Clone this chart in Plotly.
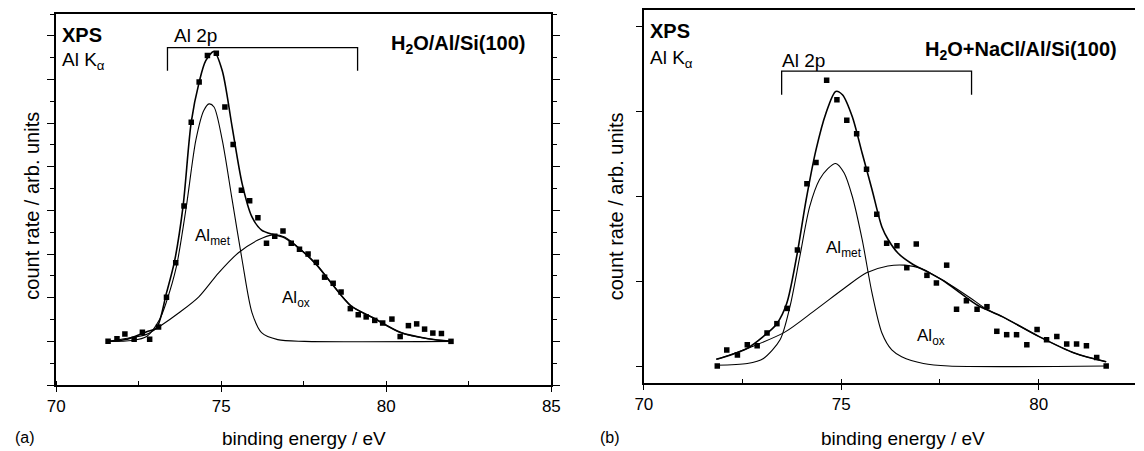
import plotly.graph_objects as go

# panel (a): H2O/Al/Si(100)
a_pts_e = [71.57, 71.84, 72.08, 72.36, 72.61, 72.83, 73.10, 73.34, 73.62, 73.87, 74.09, 74.33,
           74.58, 74.85, 75.11, 75.36, 75.61, 75.86, 76.11, 76.37, 76.62, 76.87, 77.12, 77.37,
           77.63, 77.88, 78.13, 78.39, 78.63, 78.91, 79.15, 79.39, 79.65, 79.89, 80.17, 80.42,
           80.67, 80.92, 81.16, 81.41, 81.67, 81.96]
a_pts_y = [0.00, 0.06, 0.17, 0.05, 0.21, 0.05, 0.33, 1.01, 1.80, 3.10, 5.02, 5.94,
           6.55, 6.60, 5.37, 4.51, 3.46, 3.22, 2.83, 2.25, 2.41, 2.53, 2.25, 2.11,
           2.00, 1.81, 1.47, 1.33, 1.13, 0.75, 0.61, 0.56, 0.48, 0.42, 0.51, 0.11,
           0.36, 0.40, 0.28, 0.19, 0.18, 0.00]

a_sum_e = [71.58, 72.15, 72.74, 73.04, 73.34, 73.58, 73.84, 74.09, 74.33, 74.53, 74.78, 75.03,
           75.33, 75.63, 75.93, 76.22, 76.62, 76.92, 77.42, 77.87, 78.35, 78.92, 79.60, 80.44,
           81.27, 81.96]
a_sum_y = [0.00, 0.05, 0.22, 0.31, 1.11, 1.82, 3.08, 5.02, 5.94, 6.43, 6.64, 6.20,
           4.91, 3.62, 2.85, 2.55, 2.44, 2.37, 2.09, 1.77, 1.32, 0.82, 0.54, 0.20,
           0.06, 0.00]

a_met_e = [71.58, 72.30, 72.74, 73.13, 73.34, 73.64, 73.94, 74.23, 74.47, 74.63, 74.78, 75.03,
           75.33, 75.63, 75.93, 76.22, 76.71, 77.52, 81.96]
a_met_y = [0.00, 0.02, 0.11, 0.50, 0.91, 1.71, 3.08, 4.61, 5.29, 5.44, 5.37, 4.61,
           3.24, 1.87, 0.66, 0.20, 0.04, 0.00, 0.00]

a_ox_e = [71.58, 72.15, 72.74, 73.13, 73.73, 74.32, 74.92, 75.52, 76.11, 76.56, 76.92, 77.43,
          77.87, 78.35, 78.92, 79.60, 80.44, 81.27, 81.96]
a_ox_y = [0.00, 0.07, 0.16, 0.34, 0.66, 1.02, 1.57, 2.03, 2.32, 2.44, 2.39, 2.09,
          1.77, 1.32, 0.82, 0.54, 0.20, 0.06, 0.00]

# panel (b): H2O+NaCl/Al/Si(100)
b_pts_e = [71.86, 72.10, 72.37, 72.62, 72.87, 73.12, 73.37, 73.63, 73.89, 74.13, 74.36, 74.63,
           74.89, 75.14, 75.39, 75.64, 75.90, 76.15, 76.41, 76.66, 76.90, 77.17, 77.41, 77.67,
           77.92, 78.17, 78.44, 78.69, 78.94, 79.19, 79.44, 79.70, 79.96, 80.20, 80.46, 80.71,
           80.96, 81.21, 81.47, 81.71]
b_pts_y = [0.00, 0.19, 0.13, 0.25, 0.24, 0.39, 0.50, 0.68, 1.37, 2.15, 2.40, 3.37,
           3.14, 2.90, 2.74, 2.32, 1.79, 1.45, 1.42, 1.16, 1.44, 1.07, 0.98, 1.19,
           0.67, 0.77, 0.67, 0.70, 0.41, 0.37, 0.37, 0.25, 0.43, 0.31, 0.35, 0.26,
           0.26, 0.24, 0.10, 0.00]

b_sum_e = [71.83, 72.20, 72.62, 73.03, 73.37, 73.62, 73.87, 74.11, 74.36, 74.61, 74.86, 75.03,
           75.28, 75.53, 75.78, 76.03, 76.19, 76.44, 76.78, 77.19, 77.61, 78.02, 78.44, 79.09,
           80.00, 80.92, 81.71]
b_sum_y = [0.08, 0.13, 0.21, 0.35, 0.50, 0.74, 1.29, 1.96, 2.55, 2.98, 3.24, 3.20,
           2.94, 2.51, 2.08, 1.64, 1.49, 1.33, 1.21, 1.11, 1.00, 0.86, 0.72, 0.58,
           0.35, 0.15, 0.05]

b_met_e = [71.83, 72.62, 73.03, 73.45, 73.70, 73.95, 74.20, 74.45, 74.66, 74.86, 75.07, 75.28,
           75.53, 75.78, 76.03, 76.28, 76.53, 77.08, 77.72, 81.71]
b_met_y = [0.01, 0.03, 0.09, 0.31, 0.70, 1.29, 1.88, 2.20, 2.33, 2.39, 2.28, 2.00,
           1.49, 0.86, 0.39, 0.19, 0.11, 0.03, 0.00, 0.00]

b_ox_e = [71.86, 72.69, 73.57, 74.34, 75.11, 75.64, 76.18, 76.61, 77.03, 77.43, 77.86, 78.28,
          78.68, 79.09, 80.00, 80.92, 81.71]
b_ox_y = [0.08, 0.22, 0.40, 0.66, 0.93, 1.10, 1.18, 1.19, 1.15, 1.05, 0.93, 0.80,
          0.67, 0.58, 0.35, 0.15, 0.05]

# Al 2p brackets
a_brk_e = [73.37, 73.37, 79.13, 79.13]
a_brk_y = [6.20, 6.73, 6.73, 6.20]
b_brk_e = [73.49, 73.49, 78.30, 78.30]
b_brk_y = [3.20, 3.48, 3.48, 3.20]

FONT = "Liberation Sans, Arial, sans-serif"
W, H = 1144, 451

fig = go.Figure()

def panel(xa, ya, pts_e, pts_y, curves, brk_e, brk_y):
    for i, (ce, cy) in enumerate(curves):
        # envelope a bit heavier than the two components
        fig.add_trace(go.Scatter(x=ce, y=cy, mode='lines',
                                 line=dict(color='black', width=1.6 if i == 0 else 1.1, shape='spline', smoothing=0.8),
                                 xaxis=xa, yaxis=ya, hoverinfo='skip'))
    fig.add_trace(go.Scatter(x=pts_e, y=pts_y, mode='markers',
                             marker=dict(symbol='square', size=5.5, color='black'),
                             xaxis=xa, yaxis=ya))
    fig.add_trace(go.Scatter(x=brk_e, y=brk_y, mode='lines', line=dict(color='black', width=1.3),
                             xaxis=xa, yaxis=ya, hoverinfo='skip'))

panel('x', 'y', a_pts_e, a_pts_y, [(a_sum_e, a_sum_y), (a_met_e, a_met_y), (a_ox_e, a_ox_y)], a_brk_e, a_brk_y)
panel('x2', 'y2', b_pts_e, b_pts_y, [(b_sum_e, b_sum_y), (b_met_e, b_met_y), (b_ox_e, b_ox_y)], b_brk_e, b_brk_y)

xcommon = dict(showgrid=False, zeroline=False, showline=True, linecolor='black', linewidth=1.6,
               ticks='outside', ticklen=5, tickwidth=1.3, tickcolor='black', dtick=5, tick0=70,
               tickfont=dict(size=17, color='black', family=FONT),
               minor=dict(ticks='inside', dtick=2.5, ticklen=4, tickwidth=1, tickcolor='black'))

fig.update_layout(
    width=W, height=H, showlegend=False, plot_bgcolor='white', paper_bgcolor='white',
    margin=dict(l=0, r=0, t=0, b=0),
    font=dict(family=FONT, color='black'),
    xaxis=dict(domain=[48 / W, 551 / W], range=[70, 85], anchor='y', mirror=True, **xcommon),
    yaxis=dict(domain=[(H - 385) / H, (H - 14) / H], range=[-1, 7.5], anchor='x',
               showgrid=False, zeroline=False, showline=True, linecolor='black', linewidth=1.6,
               mirror='ticks', showticklabels=False, ticks='outside', ticklen=7, tickwidth=1.2,
               tickcolor='black', dtick=1, tick0=0,
               minor=dict(ticks='outside', dtick=0.5, ticklen=4, tickwidth=1, tickcolor='black')),
    xaxis2=dict(domain=[645 / W, 1.0], range=[70, 82.44], anchor='y2', mirror=True, **xcommon),
    yaxis2=dict(domain=[(H - 383) / H, (H - 10) / H], range=[-0.2, 4.2], anchor='x2',
                showgrid=False, zeroline=False, showline=True, linecolor='black', linewidth=1.6,
                showticklabels=False, ticks='outside', ticklen=6, tickwidth=1.2, tickcolor='black',
                dtick=1, tick0=0),
)

def note(text, x, y, xref, yref, size=16, xanchor='left', yanchor='middle', angle=0):
    fig.add_annotation(text=text, x=x, y=y, xref=xref, yref=yref, showarrow=False,
                       xanchor=xanchor, yanchor=yanchor, textangle=angle,
                       font=dict(size=size, color='black', family=FONT))

# panel (a) labels
note('<b>XPS</b>', 70.10, 7.01, 'x', 'y', size=20)
note('Al K<sub>α</sub>', 70.10, 6.42, 'x', 'y', size=19)
note('Al 2p', 74.21, 7.0, 'x', 'y', size=19, xanchor='center')
note('<b>H<sub>2</sub>O/Al/Si(100)</b>', 84.29, 6.80, 'x', 'y', size=20, xanchor='right')
note('Al<sub>met</sub>', 74.15, 2.38, 'x', 'y', size=17)
note('Al<sub>ox</sub>', 76.77, 0.96, 'x', 'y', size=17)
note('count rate / arb. units', 23 / W, (H - 206) / H, 'paper', 'paper', size=20, xanchor='center', angle=-90)
note('binding energy / eV', 300 / W, (H - 438) / H, 'paper', 'paper', size=19, xanchor='center')
note('(a)', 4 / W, (H - 437) / H, 'paper', 'paper', size=16)

# panel (b) labels
note('<b>XPS</b>', 70.10, 3.95, 'x2', 'y2', size=20)
note('Al K<sub>α</sub>', 70.10, 3.62, 'x2', 'y2', size=19)
note('Al 2p', 74.05, 3.60, 'x2', 'y2', size=19, xanchor='center')
note('<b>H<sub>2</sub>O+NaCl/Al/Si(100)</b>', 82.04, 3.72, 'x2', 'y2', size=20, xanchor='right')
note('Al<sub>met</sub>', 74.56, 1.38, 'x2', 'y2', size=17)
note('Al<sub>ox</sub>', 76.88, 0.34, 'x2', 'y2', size=17)
note('count rate / arb. units', 617 / W, (H - 206) / H, 'paper', 'paper', size=20, xanchor='center', angle=-90)
note('binding energy / eV', 908 / W, (H - 438) / H, 'paper', 'paper', size=19, xanchor='center')
note('(b)', 598 / W, (H - 437) / H, 'paper', 'paper', size=16)

# page margin off so the figure sits at the window origin
fig.write_html("out.html", config={'displayModeBar': False},
               post_script="document.body.style.margin='0';")
